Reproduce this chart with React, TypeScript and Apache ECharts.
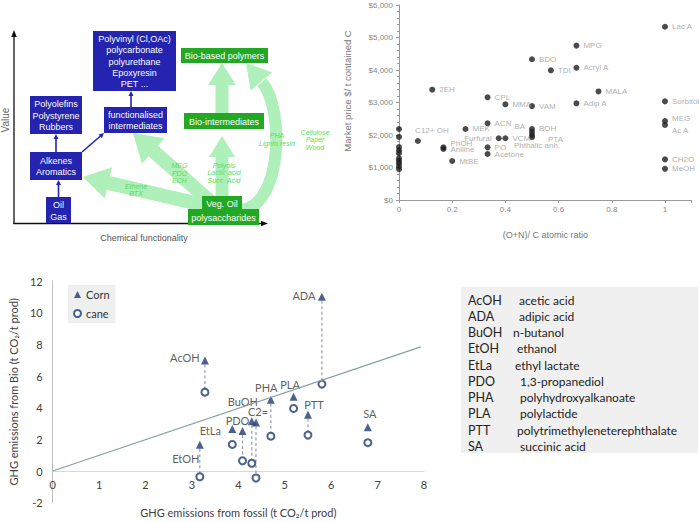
import React, { useEffect, useRef } from 'react';
import * as echarts from 'echarts';

// ---------- Top-right chart: market price vs (O+N)/C ----------
const priceNames = ['Lac A', 'MPG', 'BDO', 'TDI', 'Acryl A', '2EH', 'MALA', 'CPL', 'MMA', 'VAM', 'Adip A', 'Sorbitol', 'MEG', 'Ac A', 'CH2O', 'MeOH', 'C12+ OH', 'PhOH', 'Aniline', 'MEK', 'MtBE', 'ACN', 'Furfural', 'VCM', 'PO', 'Acetone', 'BA', 'BOH', 'Phthalic anh.', 'PTA'];
const priceRatio = [1, 0.667, 0.5, 0.571, 0.667, 0.125, 0.75, 0.333, 0.4, 0.5, 0.667, 1, 1, 1, 1, 1, 0.071, 0.167, 0.167, 0.25, 0.2, 0.333, 0.375, 0.4, 0.333, 0.333, 0.5, 0.5, 0.5, 0.5];
const priceValue = [5330, 4750, 4330, 3990, 4070, 3395, 3340, 3160, 2945, 2890, 2975, 3035, 2430, 2310, 1250, 960, 1815, 1620, 1570, 2185, 1200, 2360, 1900, 1900, 1620, 1415, 2185, 2090, 2000, 1930];
const zeroRatioPrices = [2185, 1940, 1630, 1530, 1440, 1280, 1205, 1130, 1040, 950];

// ---------- Bottom-left chart: GHG emissions ----------
const ghgNames = ['AcOH', 'ADA', 'PHA', 'PLA', 'BuOH', 'C2=', 'PDO', 'EtLa', 'EtOH', 'PTT', 'SA'];
const ghgFossil = [3.28, 5.8, 4.7, 5.19, 4.29, 4.38, 4.09, 3.87, 3.17, 5.5, 6.79];
const ghgBioCorn = [6.98, 11.0, 4.5, 4.69, 3.14, 3.06, 2.53, 2.65, 1.66, 3.55, 2.77];
const ghgBioCane = [4.98, 5.49, 2.2, 3.95, 0.49, -0.44, 0.65, 1.68, -0.36, 2.27, 1.79];
const ghgDashed = [true, true, true, false, true, true, true, false, true, true, false];
const parityLine = [[0, 0], [7.93, 7.84]];

// ---------- Bottom-right glossary ----------
const abbrevs = ['AcOH', 'ADA', 'BuOH', 'EtOH', 'EtLa', 'PDO', 'PHA', 'PLA', 'PTT', 'SA'];
const meanings = ['acetic acid', 'adipic acid', 'n-butanol', 'ethanol', 'ethyl lactate', '1,3-propanediol', 'polyhydroxyalkanoate', 'polylactide', 'polytrimethyleneterephthalate', 'succinic acid'];

// ---------- Top-left diagram texts ----------
const blueBoxTexts = [['Oil', 'Gas'], ['Alkenes', 'Aromatics'], ['Polyolefins', 'Polystyrene', 'Rubbers'], ['functionalised', 'intermediates'], ['Polyvinyl (Cl,OAc)', 'polycarbonate', 'polyurethane', 'Epoxyresin', 'PET ...']];
const greenBoxTexts = [['Bio-based polymers'], ['Bio-intermediates'], ['Veg. Oil'], ['polysaccharides']];
const routeTexts = [['Ethene', 'BTX'], ['MEG', 'PDO', 'ECH'], ['Polyols', 'Lactic acid', 'Succ. Acid'], ['PHA', 'Lignin resin'], ['Cellulose', 'Paper', 'Wood']];

// ---------- layout / style (not data) ----------
const blueBoxLayout = [
  { x: 46, y: 197, w: 25, h: 26, lh: 12 },
  { x: 30, y: 152, w: 52, h: 28, lh: 11.5 },
  { x: 30, y: 96, w: 52, h: 38, lh: 11.2 },
  { x: 104, y: 107, w: 63, h: 26, lh: 11 },
  { x: 93, y: 31, w: 83, h: 60, lh: 11.2 },
];
const greenBoxLayout = [
  { x: 181, y: 48, w: 87, h: 15, lh: 11 },
  { x: 184, y: 113, w: 80, h: 16, lh: 11 },
  { x: 202, y: 196, w: 40, h: 14, lh: 11 },
  { x: 188, y: 209, w: 71, h: 16, lh: 11 },
];
const routeLayout = [
  { x: 136, y: 190, lh: 7.5 },
  { x: 179.5, y: 173.3, lh: 7.7 },
  { x: 224, y: 172.8, lh: 7.8 },
  { x: 277, y: 139, lh: 8 },
  { x: 315, y: 139.5, lh: 7.5 },
];
const glossaryDescX = [519, 519, 513, 517, 515, 520, 520, 520, 517, 520];

const priceLabelStyle: Record<string, any> = {
  'C12+ OH': { position: 'top', offset: [14, 0] },
  PhOH: { offset: [0, -4] },
  Aniline: { offset: [0, 1] },
  Furfural: { position: 'left' },
  BA: { position: 'left', offset: [0, -2] },
  BOH: { offset: [0, -4] },
  'Phthalic anh.': { position: 'bottom', offset: [5, -1] },
  PTA: { offset: [9, 2] },
  MEG: { offset: [0, -3] },
  'Ac A': { offset: [0, 6] },
};
const ghgLabelOffset: Record<string, number[]> = {
  AcOH: [-20, -3], ADA: [-18, -1], PHA: [-4.5, -12], PLA: [-3.5, -12], BuOH: [-9, -20], 'C2=': [2, -11],
  PDO: [-5, -10], EtLa: [-22, 1], EtOH: [-14, 14], PTT: [6, -10], SA: [2, -14],
};

const BLUE = '#2424b0';
const GREEN = '#23a823';
const ARROW_GREEN = '#aeefba';
const ROUTE_GREEN = '#5ddc5d';
const NAVY = '#1f3a6e';

function arrowPts(sx: number, sy: number, tx: number, ty: number, sw: number, hw: number, hl: number) {
  const dx = tx - sx, dy = ty - sy;
  const L = Math.hypot(dx, dy);
  const ux = dx / L, uy = dy / L;
  const nx = -uy, ny = ux;
  const bx = tx - ux * hl, by = ty - uy * hl;
  return [
    [sx + nx * sw / 2, sy + ny * sw / 2],
    [bx + nx * sw / 2, by + ny * sw / 2],
    [bx + nx * hw / 2, by + ny * hw / 2],
    [tx, ty],
    [bx - nx * hw / 2, by - ny * hw / 2],
    [bx - nx * sw / 2, by - ny * sw / 2],
    [sx - nx * sw / 2, sy - ny * sw / 2],
  ];
}

function textEl(x: number, y: number, text: string, opts: any, rotation = 0) {
  return {
    type: 'text', x, y, rotation, silent: true,
    style: {
      text, x: 0, y: 0, align: 'center', verticalAlign: 'middle', textAlign: 'center', textVerticalAlign: 'middle',
      ...opts,
    },
  };
}

function buildGraphic() {
  const els: any[] = [];
  // diagram axes
  els.push({ type: 'polygon', shape: { points: arrowPts(14, 224, 14, 30, 1.3, 5.5, 7) }, style: { fill: '#111' } });
  els.push({ type: 'polygon', shape: { points: arrowPts(13.4, 223.5, 268, 223.5, 1.3, 5.5, 7) }, style: { fill: '#111' } });
  els.push(textEl(5, 120, 'Value', { fill: '#666', fontSize: 10, fontFamily: 'Liberation Sans' }, Math.PI / 2));
  els.push(textEl(144, 238, 'Chemical functionality', { fill: '#555', fontSize: 9, fontFamily: 'Liberation Sans' }));

  // light green routes
  const gs = { fill: ARROW_GREEN };
  els.push({ type: 'polygon', shape: { points: arrowPts(212, 207, 83, 177, 14, 32, 26) }, style: gs });
  els.push({ type: 'polygon', shape: { points: arrowPts(212, 203, 133, 133, 14, 34, 27) }, style: gs });
  els.push({ type: 'polygon', shape: { points: arrowPts(222, 203, 222, 136, 13, 26, 21) }, style: gs });
  els.push({ type: 'polygon', shape: { points: arrowPts(222, 118, 222, 63, 13, 28, 22) }, style: gs });
  els.push({
    type: 'bezierCurve',
    shape: { x1: 240, y1: 210, cpx1: 282, cpy1: 208, cpx2: 285, cpy2: 110, x2: 262, y2: 82 },
    style: { stroke: ARROW_GREEN, lineWidth: 12, fill: null },
  });
  els.push({ type: 'polygon', shape: { points: arrowPts(264, 84.5, 246, 63, 0.1, 28, 24) }, style: gs });

  // blue arrows
  const bl = [[58.5, 197, 58.5, 180], [56, 152, 56, 134], [82, 152, 104, 133], [131, 107, 131, 91]];
  bl.forEach(([a, b, c, d]) => {
    els.push({ type: 'polygon', shape: { points: arrowPts(a, b, c, d, 1.6, 5, 5) }, style: { fill: BLUE } });
  });

  // boxes
  const boxes = (layout: any[], texts: string[][], color: string) => {
    layout.forEach((b, i) => {
      els.push({ type: 'rect', shape: { x: b.x, y: b.y, width: b.w, height: b.h }, style: { fill: color } });
      els.push(textEl(b.x + b.w / 2, b.y + b.h / 2 + 0.5, texts[i].join('\n'), {
        fill: '#fff', fontSize: 9, fontFamily: 'Liberation Sans', lineHeight: b.lh,
      }));
    });
  };
  boxes(blueBoxLayout, blueBoxTexts, BLUE);
  boxes(greenBoxLayout, greenBoxTexts, GREEN);

  routeLayout.forEach((r, i) => {
    els.push(textEl(r.x, r.y, routeTexts[i].join('\n'), {
      fill: ROUTE_GREEN, fontSize: 7, fontStyle: 'italic', fontFamily: 'Liberation Sans', lineHeight: r.lh,
    }));
  });

  // top-right y title
  els.push(textEl(347, 91, 'Market price $/ t contained C', { fill: '#777', fontSize: 9.5, fontFamily: 'Liberation Sans' }, Math.PI / 2));

  // glossary
  els.push({ type: 'rect', shape: { x: 461, y: 287, width: 237, height: 166 }, style: { fill: '#f0f0f0' } });
  abbrevs.forEach((a, i) => {
    const y = 300 + i * 16.27;
    els.push({ type: 'text', silent: true, style: { text: a, x: 468, y, fill: '#222', fontSize: 12.5, fontFamily: 'Lato', align: 'left', verticalAlign: 'middle', textAlign: 'left', textVerticalAlign: 'middle' } });
    els.push({ type: 'text', silent: true, style: { text: meanings[i], x: glossaryDescX[i], y, fill: '#222', fontSize: 12, fontFamily: 'Lato', align: 'left', verticalAlign: 'middle', textAlign: 'left', textVerticalAlign: 'middle' } });
  });
  return els;
}

export default function App() {
  const ref = useRef<HTMLDivElement>(null);
  useEffect(() => {
    if (!ref.current) return;
    const chart = echarts.init(ref.current, undefined, { renderer: 'svg' });
    const grayAxis = '#9a9a9a';
    const gridH = 221.7;
    const yMin = -2, yMax = 12;
    const zeroOffset = -gridH * (0 - yMin) / (yMax - yMin);
    const option: any = {
      animation: false,
      textStyle: { fontFamily: 'Liberation Sans' },
      grid: [
        { left: 399, top: 5, width: 292.6, height: 195, containLabel: false, outerBoundsMode: 'none' },
        { left: 52.7, top: 281, width: 371.3, height: gridH, containLabel: false, outerBoundsMode: 'none' },
      ],
      xAxis: [
        {
          gridIndex: 0, type: 'value', min: 0, max: 1.1, interval: 0.2,
          axisLine: { show: true, lineStyle: { color: grayAxis } },
          axisTick: { show: true, length: 3, lineStyle: { color: grayAxis } },
          axisLabel: { fontSize: 8, color: '#888', margin: 5, formatter: (v: number) => (v > 1.0001 ? '' : String(Math.round(v * 10) / 10)) },
          splitLine: { show: false },
          name: '(O+N)/ C atomic ratio', nameLocation: 'middle', nameGap: 30,
          nameTextStyle: { fontSize: 9, color: '#777' },
        },
        {
          gridIndex: 1, type: 'value', min: 0, max: 8, interval: 1,
          position: 'bottom', offset: zeroOffset,
          axisLine: { show: true, onZero: false, lineStyle: { color: '#d9d9d9' } },
          axisTick: { show: false },
          axisLabel: { fontSize: 11, color: '#404040', fontFamily: 'Lato', margin: 8 },
          splitLine: { show: false },
          name: 'GHG emissions from fossil (t CO₂/t prod)', nameLocation: 'middle', nameGap: 36,
          nameTextStyle: { fontSize: 11, color: '#404040', fontFamily: 'Lato' },
        },
      ],
      yAxis: [
        {
          gridIndex: 0, type: 'value', min: 0, max: 6000, interval: 1000,
          axisLine: { show: true, lineStyle: { color: grayAxis } },
          axisTick: { show: true, length: 3, lineStyle: { color: grayAxis } },
          minorTick: { show: true, splitNumber: 5, length: 2, lineStyle: { color: grayAxis } },
          axisLabel: { fontSize: 8, color: '#888', margin: 6, formatter: (v: number) => '$' + v.toLocaleString('en-US') },
          splitLine: { show: false },
        },
        {
          gridIndex: 1, type: 'value', min: yMin, max: yMax, interval: 2,
          axisLine: { show: true, onZero: false, lineStyle: { color: '#bfbfbf' } },
          axisTick: { show: false },
          axisLabel: { fontSize: 11, color: '#404040', fontFamily: 'Lato', margin: 10 },
          splitLine: { show: false },
          name: 'GHG emissions from Bio (t CO₂/t prod)', nameLocation: 'middle', nameGap: 26,
          nameTextStyle: { fontSize: 11, color: '#404040', fontFamily: 'Lato' },
        },
      ],
      legend: {
        data: [{ name: 'Corn', icon: 'triangle' }, { name: 'cane', icon: 'emptyCircle' }],
        orient: 'vertical', left: 68, top: 285,
        backgroundColor: '#eef0f0', padding: [4, 6, 4, 5],
        itemWidth: 7, itemHeight: 7, itemGap: 8,
        itemStyle: { borderWidth: 1.2 },
        textStyle: { fontSize: 11, color: '#333', fontFamily: 'Lato' },
      },
      series: [
        {
          type: 'scatter', xAxisIndex: 0, yAxisIndex: 0, symbolSize: 6,
          itemStyle: { color: '#1e1e1e' },
          data: priceNames.map((n, i) => {
            const s = priceLabelStyle[n] || {};
            return {
              name: n, value: [priceRatio[i], priceValue[i]],
              label: {
                show: true, formatter: '{b}', position: s.position || 'right', offset: s.offset || [0, 0],
                distance: 4, fontSize: 8, color: '#999', fontFamily: 'Liberation Sans',
              },
            };
          }),
        },
        {
          type: 'scatter', xAxisIndex: 0, yAxisIndex: 0, symbolSize: 6,
          itemStyle: { color: '#1e1e1e' },
          data: zeroRatioPrices.map((p) => [0, p]),
        },
        {
          type: 'custom', xAxisIndex: 1, yAxisIndex: 1, silent: true, z: 1,
          data: ghgFossil.map((x, i) => [x, ghgBioCorn[i], ghgBioCane[i]]).filter((_, i) => ghgDashed[i]),
          encode: { x: 0, y: [1, 2] },
          renderItem: (params: any, api: any) => {
            const p1 = api.coord([api.value(0), api.value(1)]);
            const p2 = api.coord([api.value(0), api.value(2)]);
            return {
              type: 'line',
              shape: { x1: p1[0], y1: p1[1] + 4, x2: p2[0], y2: p2[1] - 3.5 },
              style: { stroke: '#8b98aa', lineWidth: 1.1, lineDash: [3, 2.5] },
            };
          },
        },
        {
          type: 'line', xAxisIndex: 1, yAxisIndex: 1, data: parityLine, symbol: 'none', silent: true,
          lineStyle: { color: '#86a0a2', width: 1.2 },
        },
        {
          name: 'Corn', type: 'scatter', xAxisIndex: 1, yAxisIndex: 1, symbol: 'triangle', symbolSize: [8, 8],
          itemStyle: { color: NAVY },
          data: ghgNames.map((n, i) => ({
            name: n, value: [ghgFossil[i], ghgBioCorn[i]],
            label: {
              show: true, formatter: '{b}', position: 'inside', offset: ghgLabelOffset[n] || [0, 0],
              fontSize: 11, color: '#333', fontFamily: 'Lato',
            },
          })),
        },
        {
          name: 'cane', type: 'scatter', xAxisIndex: 1, yAxisIndex: 1, symbol: 'emptyCircle', symbolSize: 7,
          itemStyle: { color: NAVY, borderWidth: 1.2 },
          data: ghgNames.map((n, i) => ({ name: n, value: [ghgFossil[i], ghgBioCane[i]] })),
        },
      ],
      graphic: buildGraphic(),
    };
    chart.setOption(option);
    return () => chart.dispose();
  }, []);
  return <div ref={ref} style={{ position: 'fixed', left: 0, top: 0, width: 700, height: 522, background: '#fff' }} />;
}
